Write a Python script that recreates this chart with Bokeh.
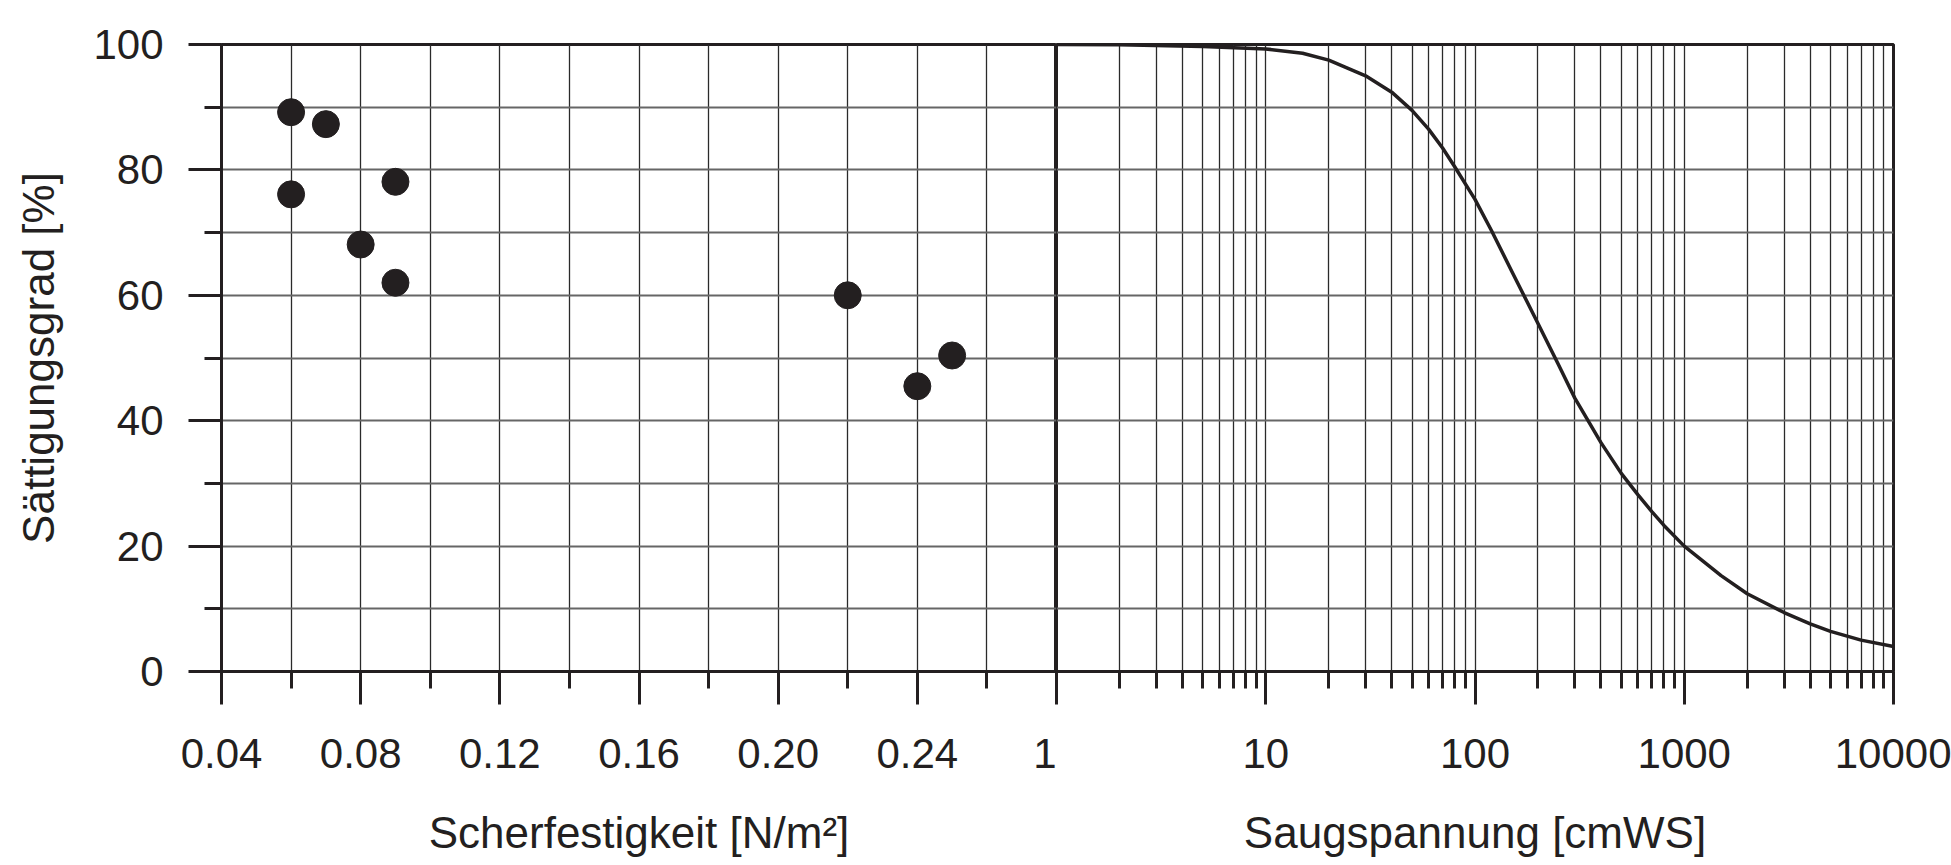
from bokeh.plotting import figure
from bokeh.layouts import row
from bokeh.models import FixedTicker, NumeralTickFormatter, Range1d
from bokeh.embed import file_html
from bokeh.resources import INLINE

# ---- data ----
scherfestigkeit = [0.06, 0.07, 0.06, 0.09, 0.08, 0.09, 0.22, 0.24, 0.25]
saettigung_scher = [89.2, 87.3, 76.1, 78.1, 68.1, 62.0, 60.0, 45.5, 50.4]

saugspannung = [1, 2, 5, 10, 15, 20, 30, 40, 50, 60, 70, 80, 100, 120, 150, 200,
                250, 300, 400, 500, 600, 700, 800, 1000, 1500, 2000, 3000, 4000,
                5000, 7000, 10000]
saettigung_saug = [100, 99.95, 99.7, 99.3, 98.6, 97.5, 95.0, 92.4, 89.5, 86.5, 83.5,
                   80.5, 75.3, 70.3, 63.8, 55.5, 49.0, 43.6, 36.5, 31.6, 28.2, 25.5,
                   23.3, 20.0, 15.3, 12.4, 9.4, 7.6, 6.4, 5.0, 4.0]

y_ticks = [0, 20, 40, 60, 80, 100]
y_minor_ticks = [10, 30, 50, 70, 90]
y_grid = [0, 10, 20, 30, 40, 50, 60, 70, 80, 90, 100]

scher_ticks = [0.04, 0.08, 0.12, 0.16, 0.20, 0.24]
scher_minor = [0.06, 0.10, 0.14, 0.18, 0.22, 0.26]
scher_grid = [0.04, 0.06, 0.08, 0.10, 0.12, 0.14, 0.16, 0.18, 0.20, 0.22, 0.24, 0.26, 0.28]
scher_end = 0.28

saug_ticks = [1, 10, 100, 1000, 10000]
saug_labels = ["1", "10", "100", "1000", "10000"]
saug_minor = [m * d for d in (1, 10, 100, 1000) for m in range(2, 10)]

FONT = "Liberation Sans"
INK = "#231f20"
H = 865
TOP = 44
BOTTOM = 194
LABEL_SIZE = "42px"
TITLE_SIZE = "44px"


def style_common(p):
    p.outline_line_color = INK
    p.outline_line_width = 3
    p.outline_line_alpha = 1
    p.background_fill_color = "white"
    p.border_fill_color = "white"
    for ax in p.xaxis:
        ax.axis_line_color = INK
        ax.axis_line_width = 3
        ax.major_tick_line_color = INK
        ax.major_tick_line_width = 3
        ax.minor_tick_line_color = INK
        ax.minor_tick_line_width = 3
        ax.major_tick_in = 0
        ax.major_tick_out = 33
        ax.minor_tick_in = 0
        ax.minor_tick_out = 17
        ax.major_label_text_font = FONT
        ax.major_label_text_font_size = LABEL_SIZE
        ax.major_label_text_color = INK
        ax.major_label_standoff = 34
        ax.axis_label_text_font = FONT
        ax.axis_label_text_font_size = TITLE_SIZE
        ax.axis_label_text_font_style = "normal"
        ax.axis_label_text_color = INK
        ax.axis_label_standoff = 37
    p.xgrid.grid_line_color = "#2a2a2a"
    p.xgrid.grid_line_width = 1.3
    p.ygrid.grid_line_color = "#666666"
    p.ygrid.grid_line_width = 2
    p.ygrid.ticker = FixedTicker(ticks=y_grid)


# ---- left panel: Scherfestigkeit ----
p1 = figure(width=1056, height=H, x_range=Range1d(0.04, scher_end),
            y_range=Range1d(0, 100), output_backend="svg", toolbar_location=None,
            min_border_left=221, min_border_right=0, min_border_top=TOP,
            min_border_bottom=BOTTOM)
style_common(p1)
p1.xaxis.ticker = FixedTicker(ticks=scher_ticks + [scher_end], minor_ticks=scher_minor)
p1.xaxis.formatter = NumeralTickFormatter(format="0.00")
p1.xaxis.major_label_overrides = {scher_end: saug_labels[0]}
p1.xaxis.axis_label = "Scherfestigkeit [N/m²]"
p1.xgrid.ticker = FixedTicker(ticks=scher_grid)

ya = p1.yaxis[0]
ya.ticker = FixedTicker(ticks=y_ticks, minor_ticks=y_minor_ticks)
ya.axis_line_color = INK
ya.axis_line_width = 3
ya.major_tick_line_color = INK
ya.major_tick_line_width = 3
ya.minor_tick_line_color = INK
ya.minor_tick_line_width = 3
ya.major_tick_in = 0
ya.major_tick_out = 33
ya.minor_tick_in = 0
ya.minor_tick_out = 17
ya.major_label_text_font = FONT
ya.major_label_text_font_size = LABEL_SIZE
ya.major_label_text_color = INK
ya.major_label_standoff = 25
ya.axis_label = "Sättigungsgrad [%]"
ya.axis_label_text_font = FONT
ya.axis_label_text_font_size = TITLE_SIZE
ya.axis_label_text_font_style = "normal"
ya.axis_label_text_color = INK
ya.axis_label_standoff = 27

p1.scatter(scherfestigkeit, saettigung_scher, marker="circle", size=27,
           fill_color=INK, line_color=INK)

# ---- right panel: Saugspannung ----
p2 = figure(width=895, height=H, x_axis_type="log", x_range=Range1d(1, 10000),
            y_range=p1.y_range, output_backend="svg", toolbar_location=None,
            min_border_left=0, min_border_right=58, min_border_top=TOP,
            min_border_bottom=BOTTOM)
style_common(p2)
p2.yaxis.visible = False
p2.xaxis.ticker = FixedTicker(ticks=saug_ticks, minor_ticks=saug_minor)
p2.xaxis.formatter = NumeralTickFormatter(format="0")
p2.xaxis.major_label_overrides = {saug_ticks[0]: ""}
p2.xaxis.axis_label = "Saugspannung [cmWS]"
p2.xgrid.ticker = FixedTicker(ticks=saug_ticks + saug_minor)

p2.line(saugspannung, saettigung_saug, line_color=INK, line_width=3.5,
        line_join="round")

layout = row(p1, p2)
open("out.html", "w").write(file_html(layout, INLINE))
